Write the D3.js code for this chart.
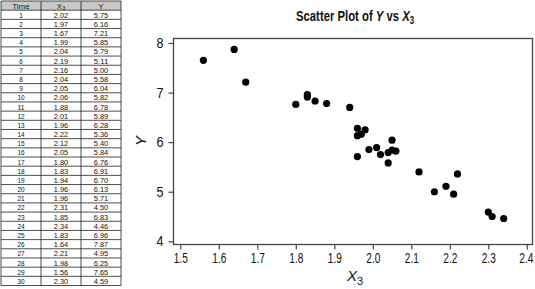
<!DOCTYPE html>
<html><head><meta charset="utf-8">
<script src="https://cdn.jsdelivr.net/npm/d3@7"></script>
<style>
body{margin:0;background:#fff;}
svg{display:block;}
.narrow{font-family:"Liberation Sans Narrow","Arial Narrow","Liberation Sans",sans-serif;}
</style></head>
<body><svg id="c" width="535" height="289"></svg>
<script>
const time = d3.range(1,31);
const x3 = [2.02,1.97,1.67,1.99,2.04,2.19,2.16,2.04,2.05,2.06,1.88,2.01,1.96,2.22,2.12,2.05,1.80,1.83,1.94,1.96,1.96,2.31,1.85,2.34,1.83,1.64,2.21,1.98,1.56,2.30];
const yv = [5.75,6.16,7.21,5.85,5.79,5.11,5.00,5.58,6.04,5.82,6.78,5.89,6.28,5.36,5.40,5.84,6.76,6.91,6.70,6.13,5.71,4.50,6.83,4.46,6.96,7.87,4.95,6.25,7.65,4.59];
const xTicks = [1.5,1.6,1.7,1.8,1.9,2.0,2.1,2.2,2.3,2.4];
const yTicks = [4,5,6,7,8];

const svg = d3.select("#c");

// ---- table ----
const tbl = svg.append("g").attr("class","narrow");
const colX = [1,41,81,121];
const rowH = (285.5-1)/31;
const rows = time.map((t,i)=>[String(t), x3[i].toFixed(2), yv[i].toFixed(2)]);
tbl.append("rect").attr("x",colX[0]).attr("y",1).attr("width",colX[3]-colX[0]).attr("height",rowH).attr("fill","#c8c8c8");
const hdr = ["Time","X","Y"];
hdr.forEach((h,j)=>{
  const t = tbl.append("text").attr("x",(colX[j]+colX[j+1])/2).attr("y",1+rowH/2+3).attr("text-anchor","middle").attr("font-size",8).attr("fill","#222");
  t.append("tspan").text(h);
  if(j===1) t.append("tspan").attr("font-size",5.5).attr("dy",1.5).text("3");
});
rows.forEach((r,i)=>{
  r.forEach((v,j)=>{
    tbl.append("text").attr("x",(colX[j]+colX[j+1])/2).attr("y",1+rowH*(i+1)+rowH/2+3).attr("text-anchor","middle").attr("font-size",8).attr("fill","#111")
      .attr("textLength", v.length*3.6).attr("lengthAdjust","spacingAndGlyphs").text(v);
  });
});
for(let i=0;i<=31;i++){
  tbl.append("line").attr("x1",colX[0]).attr("x2",colX[3]).attr("y1",1+rowH*i).attr("y2",1+rowH*i).attr("stroke","#222").attr("stroke-width",0.8);
}
colX.forEach(c=>tbl.append("line").attr("x1",c).attr("x2",c).attr("y1",1).attr("y2",1+rowH*31).attr("stroke","#222").attr("stroke-width",0.8));

// ---- scatter ----
const x = d3.scaleLinear().domain([1.5,2.4]).range([180.3,526.8]);
const y = d3.scaleLinear().domain([4,8]).range([241.3,43]);
const L=173.5, R=532.5, T=38.5, B=244.5;

svg.append("rect").attr("x",L).attr("y",T).attr("width",R-L).attr("height",B-T).attr("fill","none").attr("stroke","#444").attr("stroke-width",1.3);

const xa = svg.append("g").attr("class","narrow").attr("transform",`translate(0,${B})`)
  .call(d3.axisBottom(x).tickValues(xTicks).tickFormat(d3.format(".1f")).tickSize(5).tickSizeOuter(0));
const ya = svg.append("g").attr("class","narrow").attr("transform",`translate(${L},0)`)
  .call(d3.axisLeft(y).tickValues(yTicks).tickFormat(d3.format("d")).tickSize(5).tickSizeOuter(0));
[xa,ya].forEach(a=>{
  a.select(".domain").remove();
  a.selectAll("line").attr("stroke","#444").attr("stroke-width",1.2);
  a.selectAll("text").attr("font-size",14).attr("fill","#111").attr("font-family",null);
});
xa.selectAll("text").attr("dy","0.71em").attr("y",9).attr("textLength",14).attr("lengthAdjust","spacingAndGlyphs");
xa.selectAll("text").filter((d,i,n)=>i===n.length-1).attr("text-anchor","end").attr("x",6);
ya.selectAll("text").attr("x",-10).attr("textLength",7).attr("lengthAdjust","spacingAndGlyphs");

svg.append("g").selectAll("circle").data(x3).join("circle")
  .attr("cx",(d)=>x(d)).attr("cy",(d,i)=>y(yv[i])).attr("r",3.6).attr("fill","#000");

// title (condensed via horizontal scale)
const title = svg.append("g").attr("transform","translate(296,21) scale(0.78,1)")
  .append("text").attr("class","narrow").attr("x",0).attr("y",0)
  .attr("font-size",14.5).attr("font-weight","bold").attr("fill","#111");
title.append("tspan").text("Scatter Plot of ");
title.append("tspan").attr("font-style","italic").text("Y");
title.append("tspan").text(" vs ");
title.append("tspan").attr("font-style","italic").text("X");
title.append("tspan").attr("font-size",10).attr("dy",3).text("3");

// axis labels
const xl = svg.append("text").attr("class","narrow").attr("x",347).attr("y",281).attr("font-size",15).attr("fill","#111");
xl.append("tspan").attr("font-style","italic").text("X");
xl.append("tspan").attr("font-size",11).attr("dy",4).text("3");
svg.append("text").attr("class","narrow").attr("transform","translate(146,141) rotate(-90)").attr("text-anchor","middle")
  .attr("font-size",15).attr("font-style","italic").attr("fill","#111").text("Y");
</script></body></html>
